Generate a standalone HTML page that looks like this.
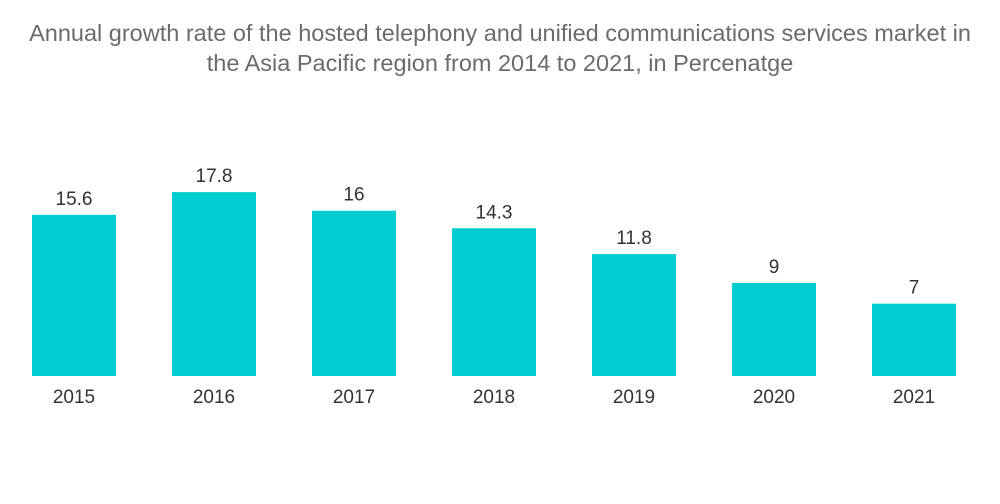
<!DOCTYPE html>
<html><head><meta charset="utf-8"><style>
body{margin:0;background:#fff;width:1000px;height:504px;overflow:hidden;font-family:"Liberation Sans",sans-serif}
#title{position:absolute;left:0;top:18px;width:1000px;text-align:center;color:#6b6b6b;font-size:23.5px;line-height:30px;white-space:nowrap}
</style></head><body>
<div id="title">Annual growth rate of the hosted telephony and unified communications services market in<br>the Asia Pacific region from 2014 to 2021, in Percenatge</div>
<svg id="chart" width="1000" height="504" style="position:absolute;left:0;top:0"></svg>
<script>
const categories=["2015","2016","2017","2018","2019","2020","2021"];
const values=[15.6,17.8,16,14.3,11.8,9,7];
const labels=["15.6","17.8","16","14.3","11.8","9","7"];
const svg=document.getElementById('chart');
const NS="http://www.w3.org/2000/svg";
const baseY=376, scale=10.33, x0=32, step=140, bw=84;
function xPos(i){return x0+i*step;}
function yPos(v){return baseY-v*scale;}
categories.forEach((c,i)=>{
  const r=document.createElementNS(NS,'rect');
  r.setAttribute('x',xPos(i));r.setAttribute('y',yPos(values[i]));
  r.setAttribute('width',bw);r.setAttribute('height',baseY-yPos(values[i]));
  r.setAttribute('fill','#00cdd0');
  
  
  svg.appendChild(r);
  const t=document.createElementNS(NS,'text');
  t.setAttribute('x',xPos(i)+bw/2);t.setAttribute('y',yPos(values[i])-10);
  t.setAttribute('text-anchor','middle');t.setAttribute('font-size','19');t.setAttribute('fill','#333');
  t.textContent=labels[i];
  
  
  svg.appendChild(t);
  const a=document.createElementNS(NS,'text');
  a.setAttribute('x',xPos(i)+bw/2);a.setAttribute('y',403);
  a.setAttribute('text-anchor','middle');a.setAttribute('font-size','19');a.setAttribute('fill','#333');
  a.textContent=c;
  
  
  svg.appendChild(a);
});
</script>
</body></html>
